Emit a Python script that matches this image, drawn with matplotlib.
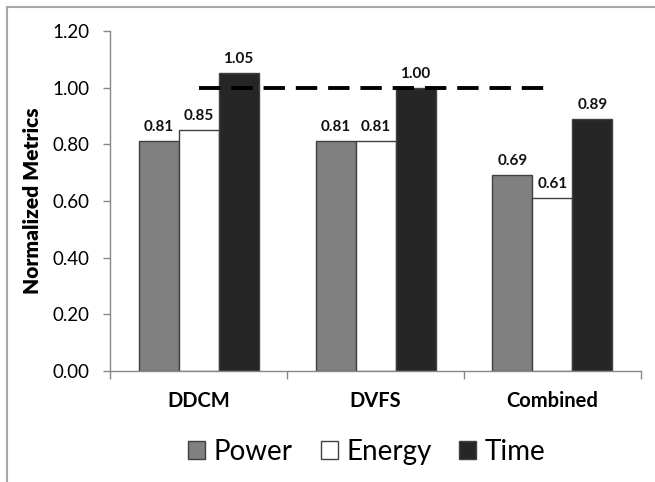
import numpy as np
import matplotlib
matplotlib.use('Agg')
import matplotlib.pyplot as plt
from matplotlib.patches import Rectangle

plt.rcParams['font.family'] = ['Lato', 'DejaVu Sans']

schemes = ['DDCM', 'DVFS', 'Combined']
power = [0.81, 0.81, 0.69]
energy = [0.85, 0.81, 0.61]
time = [1.05, 1.00, 0.89]
series_names = ['Power', 'Energy', 'Time']
baseline = 1.0

colors = ['#808080', '#ffffff', '#262626']
edge = '#404040'

fig = plt.figure(figsize=(6.55, 4.82), dpi=100)
ax = fig.add_axes([0.168, 0.2303, 0.8106, 0.7054])

x = np.arange(len(schemes))
w = 0.226
for i, (vals, c) in enumerate(zip([power, energy, time], colors)):
    ax.bar(x + (i - 1) * w, vals, w, color=c, edgecolor=edge, linewidth=1.0,
           label=series_names[i], zorder=2)
    for xi, v in zip(x + (i - 1) * w, vals):
        ax.text(xi, v + 0.025, f'{v:.2f}', ha='center', va='bottom',
                fontsize=11, fontweight='bold', color='#111111')

# reference line at 1.0 between first and last group centres
ax.plot([x[0], x[-1]], [baseline, baseline], color='black', lw=2.8,
        dashes=(5.5, 2.8), zorder=3)

ax.set_xlim(-0.5, 2.5)
ax.set_ylim(0, 1.2)
yt = np.arange(0, 1.21, 0.2)
ax.set_yticks(yt)
ax.set_yticklabels([f'{t:.2f}' for t in yt], fontsize=13.5)
ax.set_ylabel('Normalized Metrics', fontsize=15, fontweight='heavy',
              labelpad=7)

# category labels between boundary ticks
ax.set_xticks([-0.5, 0.5, 1.5, 2.5])
ax.set_xticklabels([])
ax.tick_params(axis='x', length=6, color='#888888', width=1)
ax.tick_params(axis='y', length=5, color='#888888', width=1, pad=10)
for xi, name in zip(x, schemes):
    ax.text(xi, -0.107, name, ha='center', va='center', fontsize=14.5,
            fontweight='bold')

for s in ['top', 'right']:
    ax.spines[s].set_visible(False)
for s in ['left', 'bottom']:
    ax.spines[s].set_color('#888888')
    ax.spines[s].set_linewidth(1)

fig.legend(loc='center', bbox_to_anchor=(0.56, 0.062), ncol=3, frameon=False,
           fontsize=20, handlelength=0.62, handleheight=0.62,
           handletextpad=0.3, columnspacing=1.0)

# outer frame
fig.patches.append(Rectangle((6.5 / 655, -0.1), 1.2, 1.1 - 6.5 / 482,
                             transform=fig.transFigure, fill=False,
                             edgecolor='#a8a8a8', lw=1.5))

fig.savefig('out.png', dpi=100)
